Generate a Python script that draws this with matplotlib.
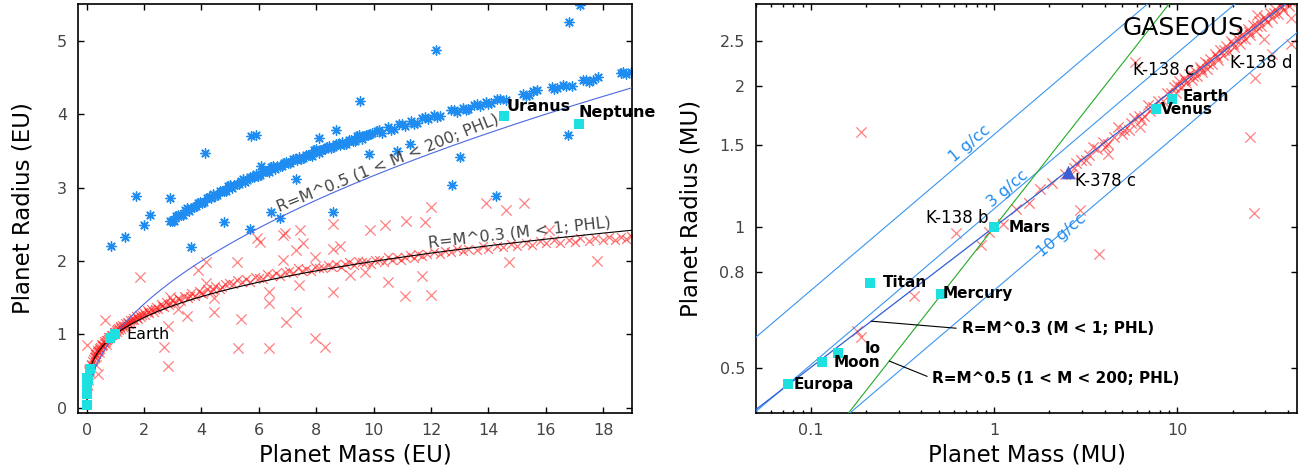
import numpy as np
import matplotlib
matplotlib.use("Agg")
import matplotlib.pyplot as plt
from matplotlib.ticker import FixedLocator, FixedFormatter, NullLocator, NullFormatter, LogLocator

# Mars in Earth units, used to rescale the right panel
MARS_MASS = 0.107
MARS_RADIUS = 0.532
MARS_DENSITY = 3.93  # g/cc

# PHL planets, rocky branch (Earth units)
rocky_band_mass = [
    0.10, 0.12, 0.14, 0.165, 0.19, 0.22, 0.26, 0.28, 0.29, 0.30, 0.32, 0.34, 0.35, 0.37,
    0.39, 0.42, 0.43, 0.45, 0.48, 0.51, 0.53, 0.55, 0.58, 0.60, 0.62, 0.66, 0.68, 0.70,
    0.74, 0.76, 0.79, 0.84, 0.89, 0.94, 0.99,
    1.02, 1.05, 1.09, 1.12, 1.16, 1.20, 1.24, 1.28, 1.33, 1.37, 1.42, 1.46, 1.51, 1.56,
    1.61, 1.66, 1.72, 1.78, 1.84, 1.90, 1.97, 2.04, 2.11, 2.18, 2.26, 2.34, 2.42, 2.50,
    2.59, 2.68, 2.77, 2.87, 2.97, 3.07, 3.18, 3.29, 3.41, 3.53, 3.65, 3.78, 3.91, 4.05,
    4.19, 4.34, 4.49, 4.65, 4.81,
    1.07, 1.18, 1.30, 1.44, 1.58, 1.75, 1.93, 2.14, 2.38, 2.63, 2.92, 3.23, 3.59, 3.98,
    4.41, 4.73,
    4.95, 5.1, 5.25, 5.4, 5.55, 5.7, 5.85, 6.0, 6.15, 6.3, 6.45, 6.6, 6.75, 6.9, 7.05,
    7.2, 7.35, 7.5, 7.65, 7.8, 7.95, 8.1, 8.25, 8.4, 8.55, 8.7, 8.85, 9.0, 9.15, 9.3,
    9.45, 9.6, 9.75, 9.9, 10.05, 10.2, 10.35, 10.5, 10.65, 10.8, 10.95, 11.1, 11.25,
    11.4, 11.55, 11.7, 11.85,
    12.1, 12.3, 12.5, 12.7, 12.9, 13.1, 13.3, 13.6, 13.8, 14.0, 14.3, 14.5, 14.8, 15.0,
    15.3, 15.5, 15.8, 16.0, 16.3, 16.5, 16.8, 17.0, 17.2, 17.5, 17.7, 18.0, 18.2, 18.4,
    18.6, 18.8, 18.95,
]
rocky_band_radius = [
    0.52, 0.54, 0.58, 0.60, 0.64, 0.66, 0.69, 0.69, 0.71, 0.73, 0.74, 0.74, 0.76, 0.79,
    0.78, 0.81, 0.79, 0.80, 0.83, 0.87, 0.84, 0.86, 0.86, 0.89, 0.91, 0.92, 0.90, 0.92,
    0.97, 0.94, 0.96, 0.99, 0.99, 1.03, 1.03,
    1.06, 1.03, 1.09, 1.06, 1.11, 1.08, 1.13, 1.10, 1.15, 1.12, 1.17, 1.14, 1.20, 1.16,
    1.22, 1.19, 1.25, 1.21, 1.27, 1.24, 1.30, 1.26, 1.33, 1.29, 1.35, 1.31, 1.38, 1.34,
    1.41, 1.37, 1.44, 1.40, 1.47, 1.43, 1.50, 1.46, 1.53, 1.49, 1.56, 1.52, 1.59, 1.55,
    1.62, 1.58, 1.66, 1.62, 1.69,
    1.07, 1.10, 1.12, 1.16, 1.19, 1.23, 1.27, 1.31, 1.35, 1.39, 1.43, 1.48, 1.53, 1.57,
    1.62, 1.65,
    1.70, 1.68, 1.74, 1.71, 1.75, 1.72, 1.78, 1.77, 1.76, 1.82, 1.80, 1.84, 1.80, 1.85,
    1.87, 1.84, 1.90, 1.87, 1.89, 1.86, 1.92, 1.91, 1.90, 1.95, 1.92, 1.96, 1.92, 1.96,
    1.98, 1.95, 2.00, 1.98, 1.99, 1.96, 2.02, 2.01, 1.99, 2.05, 2.02, 2.06, 2.01, 2.06,
    2.08, 2.04, 2.10, 2.07, 2.09,
    2.12, 2.09, 2.14, 2.12, 2.16, 2.13, 2.17, 2.15, 2.20, 2.17, 2.21, 2.19, 2.23, 2.20,
    2.25, 2.22, 2.27, 2.24, 2.28, 2.25, 2.29, 2.26, 2.31, 2.27, 2.32, 2.28, 2.33, 2.29,
    2.33, 2.30, 2.34,
]
rocky_scatter_mass = [
    0.02, 0.066, 0.091, 0.039, 0.019, 0.020, 0.40, 0.315, 0.448, 0.671, 0.63, 1.87,
    2.68, 2.82, 2.85, 2.92, 3.17, 3.5, 3.87, 4.15, 4.15, 4.45, 4.45, 5.25, 5.37, 5.28,
    5.95, 6.37, 6.37, 6.37, 6.84, 6.9, 7.42, 7.54, 7.3, 6.96, 7.3, 7.4, 7.94, 7.94,
    8.29, 6.03, 6.84, 8.58, 8.82, 8.58, 9.86, 10.4, 11.14, 11.8, 12.0, 13.93, 14.6,
    15.23, 16.1, 9.16, 10.49, 11.68, 14.7, 17.77, 8.58, 9.69, 11.08, 11.99,
]
rocky_scatter_radius = [
    0.85, 0.517, 0.488, 0.378, 0.319, 0.309, 0.466, 0.579, 0.761, 0.870, 1.20, 1.78,
    0.83, 0.57, 1.11, 1.51, 1.34, 1.25, 1.88, 1.99, 1.70, 1.31, 1.49, 1.99, 1.21, 0.82,
    2.31, 1.58, 1.43, 0.82, 2.01, 2.38, 2.42, 2.24, 2.15, 1.17, 1.31, 1.67, 2.06, 0.95,
    0.83, 2.26, 2.35, 2.51, 2.21, 2.17, 2.42, 2.49, 2.54, 2.53, 2.73, 2.79, 2.69,
    2.79, 2.42, 1.81, 1.71, 1.79, 1.99, 2.00, 1.58, 1.85, 1.52, 1.54,
]

# PHL planets, gaseous branch (Earth units)
gas_band_mass = [
    2.9, 3.05, 3.2, 3.35, 3.5, 3.65, 3.8, 3.95, 4.1, 4.25, 4.4, 4.55, 4.7, 4.85, 5.0,
    5.15, 5.3, 5.45, 5.6, 5.75, 5.9, 6.05, 6.2, 6.35, 6.5, 6.65, 6.8, 6.95, 7.1, 7.25,
    7.4, 7.55, 7.7, 7.85, 8.0, 8.15, 8.3, 8.45, 8.6, 8.75, 8.9, 9.05, 9.2, 9.35, 9.5,
    9.65, 9.8, 9.95,
    2.98, 3.13, 3.28, 3.43, 3.58, 3.73, 3.88, 4.03, 4.18, 4.33, 4.48, 4.63, 4.78, 4.93,
    5.08, 5.23, 5.38, 5.53, 5.68, 5.83, 5.98, 6.13, 6.28, 6.43, 6.58, 6.73, 6.88, 7.03,
    7.18, 7.33, 7.48, 7.63, 7.78, 7.93, 8.08, 8.23, 8.38, 8.53, 8.68, 8.83, 8.98, 9.13,
    9.28, 9.43, 9.58, 9.73, 9.88,
    10.1, 10.3, 10.5, 10.7, 10.9, 11.1, 11.3, 11.5, 11.7, 11.9, 12.1, 12.3, 12.7, 12.9,
    13.1, 13.3, 13.5, 13.7, 13.9, 14.1, 14.3, 14.6, 15.2, 15.4, 15.7, 16.2, 16.4, 16.6,
    16.9, 17.3, 17.5, 17.8, 18.6, 18.8, 18.95,
    10.2, 10.6, 11.0, 11.4, 11.8, 12.2, 12.8, 13.2, 13.6, 14.0, 14.4, 15.3, 15.55, 16.3,
    16.7, 17.4, 17.65, 18.7,
]
gas_band_radius = [
    2.55, 2.55, 2.62, 2.62, 2.72, 2.72, 2.75, 2.81, 2.80, 2.87, 2.91, 2.90, 2.96, 2.95,
    3.04, 3.03, 3.05, 3.11, 3.10, 3.15, 3.19, 3.17, 3.23, 3.21, 3.30, 3.29, 3.30, 3.35,
    3.34, 3.39, 3.42, 3.40, 3.45, 3.43, 3.52, 3.51, 3.52, 3.57, 3.55, 3.59, 3.62, 3.60,
    3.65, 3.63, 3.71, 3.70, 3.71, 3.75,
    2.54, 2.61, 2.62, 2.70, 2.68, 2.74, 2.79, 2.79, 2.86, 2.86, 2.89, 2.95, 2.95, 3.02,
    2.99, 3.05, 3.09, 3.08, 3.15, 3.15, 3.16, 3.23, 3.22, 3.28, 3.25, 3.30, 3.33, 3.33,
    3.39, 3.38, 3.39, 3.45, 3.44, 3.51, 3.47, 3.52, 3.55, 3.54, 3.60, 3.58, 3.59, 3.65,
    3.64, 3.70, 3.66, 3.71, 3.73,
    3.77, 3.75, 3.82, 3.80, 3.86, 3.84, 3.91, 3.88, 3.95, 3.93, 3.99, 3.97, 4.05, 4.03,
    4.09, 4.07, 4.13, 4.11, 4.17, 4.15, 4.20, 4.19, 4.28, 4.26, 4.33, 4.37, 4.35, 4.40,
    4.39, 4.46, 4.44, 4.50, 4.56, 4.54, 4.58,
    3.79, 3.78, 3.87, 3.87, 3.96, 3.96, 4.06, 4.06, 4.14, 4.14, 4.21, 4.25, 4.31, 4.34,
    4.39, 4.47, 4.46, 4.57,
]
gas_scatter_mass = [
    0.86, 1.32, 1.71, 1.99, 2.22, 2.89, 3.65, 4.11, 4.77, 5.68, 5.74, 5.91, 6.09, 6.44,
    6.72, 7.28, 8.09, 8.58, 8.68, 9.51, 9.84, 10.81, 11.28, 12.16, 12.73, 13.02, 14.27,
    16.77, 16.8, 17.18,
]
gas_scatter_radius = [
    2.21, 2.33, 2.89, 2.49, 2.62, 2.86, 2.19, 3.47, 2.53, 2.44, 3.70, 3.72, 3.30, 2.67,
    2.58, 3.12, 3.68, 2.67, 3.78, 4.18, 3.46, 3.50, 3.60, 4.87, 3.03, 3.41, 2.89,
    3.71, 5.25, 5.48,
]

# solar system bodies (Earth units)
body_names = ["Ceres", "Pluto", "Triton", "Europa", "Moon", "Io", "Mercury", "Titan",
              "Mars", "Venus", "Earth", "Uranus", "Neptune"]
body_mass = [0.00016, 0.0022, 0.0036, 0.008, 0.0123, 0.015, 0.055, 0.0225,
             0.107, 0.815, 1.0, 14.54, 17.15]
body_radius = [0.04, 0.186, 0.212, 0.245, 0.273, 0.286, 0.383, 0.404,
               0.532, 0.95, 1.0, 3.98, 3.86]

# Kepler-378 c (Earth units)
k378c_mass = 0.27
k378c_radius = 0.697

densities = [1, 3, 10]  # g/cc

RED = "#ff1a1a"
BLUE = "#1e8cf0"
CYAN = "#1ee0e0"
TICK_GRAY = "#444444"

fig = plt.figure(figsize=(13.06, 4.73), dpi=100)
ax1 = fig.add_axes([78 / 1306, 60 / 473, 554 / 1306, 409 / 473])
ax2 = fig.add_axes([756 / 1306, 60 / 473, 541 / 1306, 409 / 473])

rbm, rbr = np.array(rocky_band_mass), np.array(rocky_band_radius)
rsm, rsr = np.array(rocky_scatter_mass), np.array(rocky_scatter_radius)
gbm, gbr = np.array(gas_band_mass), np.array(gas_band_radius)
gsm, gsr = np.array(gas_scatter_mass), np.array(gas_scatter_radius)
bm, br = np.array(body_mass), np.array(body_radius)

# ---- left panel: Earth units, linear axes ----
asterisk = (8, 2, 0)
ax1.scatter(gbm, gbr, marker=asterisk, s=45, linewidths=1.0, color=BLUE, zorder=2)
ax1.scatter(gsm, gsr, marker=asterisk, s=45, linewidths=1.0, color=BLUE, zorder=2)
ax1.scatter(rbm, rbr, marker="x", s=40, linewidths=0.9, color=RED, alpha=0.6, zorder=2)
ax1.scatter(rsm, rsr, marker="x", s=55, linewidths=0.9, color=RED, alpha=0.55, zorder=2)

m = np.linspace(0, 19, 500)
ax1.plot(m, m ** 0.5, color="#4a68e0", lw=0.8, zorder=3)
ax1.plot(m, m ** 0.3, color="black", lw=0.8, zorder=3)
ax1.scatter(bm, br, marker="s", s=60, color=CYAN, linewidths=0, zorder=4)

left_labels = {"Earth": ((8, 0), "normal"), "Uranus": ((1.5, 6.5), "bold"),
               "Neptune": ((0, 8.5), "bold")}
for name, (off, weight) in left_labels.items():
    i = body_names.index(name)
    ax1.annotate(name, (bm[i], br[i]), xytext=off, textcoords="offset points",
                 ha="left", va="center", fontsize=11.5, fontweight=weight, zorder=5)

ax1.text(10.49, 3.33, "R=M^0.5 (1 < M < 200; PHL)", rotation=22, rotation_mode="anchor",
         ha="center", va="center", fontsize=11.5, color="#444444", zorder=5)
ax1.text(15.09, 2.39, "R=M^0.3 (M < 1; PHL)", rotation=6.5, rotation_mode="anchor",
         ha="center", va="center", fontsize=11.5, color="#444444", zorder=5)

ax1.set_xlim(-0.3, 19.0)
ax1.set_ylim(-0.07, 5.5)
ax1.set_xticks(np.arange(0, 19, 2))
ax1.set_yticks(np.arange(0, 6, 1))
ax1.set_xlabel("Planet Mass (EU)", fontsize=16.5, labelpad=4)
ax1.set_ylabel("Planet Radius (EU)", fontsize=16.5, labelpad=16)

# ---- right panel: Mars units, log-log ----
ax2.scatter(rbm / MARS_MASS, rbr / MARS_RADIUS, marker="x", s=55, linewidths=0.9,
            color=RED, alpha=0.6, zorder=2)
ax2.scatter(rsm / MARS_MASS, rsr / MARS_RADIUS, marker="x", s=55, linewidths=0.9,
            color=RED, alpha=0.55, zorder=2)

mm = np.logspace(np.log10(0.05), np.log10(45), 400)
for rho in densities:
    ax2.plot(mm, (mm * MARS_DENSITY / rho) ** (1 / 3), color="#3a95f0", lw=0.8, zorder=3)
ax2.plot(mm, mm ** 0.3, color="#2f5fd8", lw=0.9, zorder=3)
ax2.plot(mm, mm ** 0.5, color="#22aa22", lw=0.8, zorder=3)

ax2.scatter(bm / MARS_MASS, br / MARS_RADIUS, marker="s", s=60, color=CYAN,
            linewidths=0, zorder=4)
ax2.scatter([k378c_mass / MARS_MASS], [k378c_radius / MARS_RADIUS], marker="^", s=95,
            color="#3c5fd8", linewidths=0, zorder=4)

right_labels = {"Europa": (4, 0), "Moon": (8, 0), "Io": (19, 3), "Titan": (9, 0),
                "Mercury": (1, 0), "Mars": (10, 0), "Venus": (4, 0), "Earth": (8, 2)}
for name, off in right_labels.items():
    i = body_names.index(name)
    ax2.annotate(name, (bm[i] / MARS_MASS, br[i] / MARS_RADIUS), xytext=off,
                 textcoords="offset points", ha="left", va="center", fontsize=11,
                 fontweight="bold", zorder=5)
ax2.annotate("K-378 c", (k378c_mass / MARS_MASS, k378c_radius / MARS_RADIUS),
             xytext=(5, -6), textcoords="offset points", ha="left", va="center",
             fontsize=12, zorder=5)

ax2.text(0.4217, 1.046, "K-138 b", ha="left", va="center", fontsize=12, zorder=5)
ax2.text(5.74, 2.165, "K-138 c", ha="left", va="center", fontsize=12, zorder=5)
ax2.text(19.3, 2.24, "K-138 d", ha="left", va="center", fontsize=12, zorder=5)
ax2.text(5.0, 2.67, "GASEOUS", ha="left", va="center", fontsize=18, zorder=5)

density_text = {1: (0.734, 1.508), 3: (1.186, 1.207), 10: (2.34, 0.961)}
for rho, (tx, ty) in density_text.items():
    ax2.text(tx, ty, f"{rho} g/cc", rotation=40, rotation_mode="anchor", ha="center",
             va="center", fontsize=11.5, color="#1e8cf0", zorder=5)

pointer = dict(arrowstyle="-", color="black", lw=0.8, shrinkA=2, shrinkB=0, relpos=(0, 0.5))
ax2.annotate("R=M^0.3 (M < 1; PHL)", xy=(0.213, 0.213 ** 0.3), xytext=(0.664, 0.606),
             ha="left", va="center", fontsize=11, fontweight="bold",
             arrowprops=pointer, zorder=5)
ax2.annotate("R=M^0.5 (1 < M < 200; PHL)", xy=(0.267, 0.267 ** 0.5), xytext=(0.46, 0.474),
             ha="left", va="center", fontsize=11, fontweight="bold",
             arrowprops=pointer, zorder=5)

ax2.set_xscale("log")
ax2.set_yscale("log")
ax2.set_xlim(0.05, 45)
ax2.set_ylim(0.4, 3.0)
ax2.xaxis.set_major_locator(FixedLocator([0.1, 1, 10]))
ax2.xaxis.set_major_formatter(FixedFormatter(["0.1", "1", "10"]))
ax2.xaxis.set_minor_locator(LogLocator(base=10, subs=np.arange(2, 10)))
ax2.xaxis.set_minor_formatter(NullFormatter())
yt = [0.5, 0.8, 1, 1.5, 2, 2.5]
ax2.yaxis.set_major_locator(FixedLocator(yt))
ax2.yaxis.set_major_formatter(FixedFormatter(["0.5", "0.8", "1", "1.5", "2", "2.5"]))
ax2.yaxis.set_minor_locator(NullLocator())
ax2.set_xlabel("Planet Mass (MU)", fontsize=16.5, labelpad=4)
ax2.set_ylabel("Planet Radius (MU)", fontsize=16.5, labelpad=12)

for ax in (ax1, ax2):
    ax.tick_params(which="both", direction="in", top=True, right=True, width=1,
                   labelsize=11.5, labelcolor=TICK_GRAY)
    ax.tick_params(which="major", length=4.5)
    ax.tick_params(which="minor", length=2.5)
    ax.tick_params(axis="x", pad=7)
    ax.tick_params(axis="y", pad=8)
    for sp in ax.spines.values():
        sp.set_linewidth(1.2)

fig.savefig("out.png", dpi=100)
